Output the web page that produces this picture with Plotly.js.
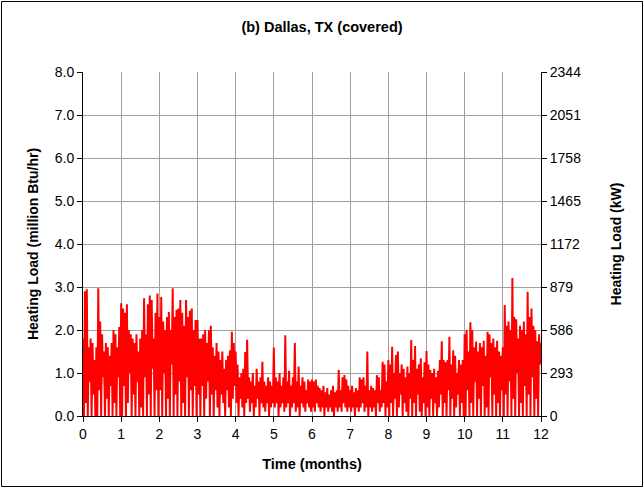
<!DOCTYPE html>
<html>
<head>
<meta charset="utf-8">
<script src="https://cdn.plot.ly/plotly-3.0.1.min.js"></script>
<style>
  html, body { margin: 0; padding: 0; background: #ffffff; }
  #chart { width: 644px; height: 488px; }
</style>
</head>
<body>
<div id="chart"></div>
<script>
// Heating load (million Btu/hr).
// Each month: 20 local peaks and 20 local troughs, every 0.05 month.
const peakLoad = [
  // month 0
  1.8, 2.9, 2.95, 1.6, 1.8, 1.7, 1.3, 1.6, 2.97, 2.2, 1.9, 1.5, 1.7, 1.6, 1.4, 1.7, 2.0, 1.9, 1.6, 2.07,
  // month 1
  2.62, 2.5, 2.4, 2.6, 2.0, 1.9, 1.8, 1.7, 1.9, 1.5, 1.8, 2.0, 2.74, 1.9, 2.6, 2.8, 2.7, 1.8, 2.4, 2.85,
  // month 2
  2.3, 2.77, 2.2, 2.0, 2.3, 2.42, 2.0, 2.97, 2.3, 2.47, 2.5, 2.7, 2.4, 2.1, 2.7, 2.3, 2.45, 2.5, 2.0, 2.23,
  // month 3
  2.23, 1.8, 1.8, 1.9, 2.0, 1.7, 2.0, 2.1, 1.6, 1.4, 1.7, 1.5, 1.3, 1.5, 1.1, 1.3, 1.4, 1.53, 1.96, 1.7,
  // month 4
  1.5, 1.2, 0.9, 1.0, 1.1, 1.49, 1.77, 0.9, 0.8, 1.0, 0.7, 1.1, 0.8, 0.9, 1.26, 0.8, 0.7, 0.9, 0.8, 0.7,
  // month 5
  1.59, 0.9, 0.8, 1.0, 0.7, 0.9, 1.88, 0.8, 1.05, 0.7, 0.9, 1.7, 0.8, 1.15, 0.7, 0.9, 0.8, 0.6, 0.85, 0.8,
  // month 6
  0.85, 0.8, 0.85, 0.7, 0.65, 0.6, 0.7, 0.55, 0.65, 0.5, 0.6, 0.7, 0.55, 0.6, 1.07, 0.6, 0.9, 0.95, 0.85, 0.7,
  // month 7
  0.6, 0.7, 0.55, 0.65, 0.6, 0.9, 0.85, 0.9, 0.7, 1.5, 0.6, 0.7, 0.65, 0.6, 0.95, 0.9, 0.6, 1.26, 1.2, 0.8,
  // month 8
  1.3, 1.2, 1.61, 1.0, 1.42, 1.5, 1.0, 1.2, 1.1, 0.9, 1.15, 1.0, 1.77, 1.3, 1.63, 1.1, 1.2, 1.34, 0.9, 1.25,
  // month 9
  1.51, 1.2, 1.07, 1.0, 1.1, 0.9, 1.05, 1.3, 1.74, 1.3, 1.25, 1.3, 1.84, 1.2, 1.53, 1.4, 1.0, 1.3, 1.2, 1.3,
  // month 10
  1.9, 2.0, 1.5, 2.18, 2.0, 1.6, 1.73, 1.5, 1.7, 1.6, 1.75, 1.4, 1.96, 1.9, 1.7, 1.8, 1.6, 1.75, 1.5, 1.4,
  // month 11
  1.6, 2.58, 2.1, 2.2, 2.0, 3.21, 2.3, 2.25, 1.8, 2.1, 2.0, 2.2, 1.9, 2.89, 2.3, 2.5, 2.1, 2.0, 1.74, 1.9
];
const troughLoad = [
  0.0, 0.3, 0.0, 0.8, 0.0, 0.5, 0.0, 0.0, 0.6, 0.0, 0.9, 0.0, 0.4, 0.0, 0.7, 0.0, 0.3, 0.0, 0.9, 0.0,
  0.0, 0.7, 0.0, 0.3, 1.0, 0.0, 0.5, 0.0, 0.8, 0.0, 0.2, 0.0, 0.9, 0.0, 0.5, 0.0, 1.1, 0.0, 0.6, 0.0,
  0.6, 0.0, 1.0, 0.0, 0.4, 0.0, 1.2, 0.0, 0.5, 0.0, 0.8, 0.0, 0.3, 0.0, 0.9, 0.0, 0.6, 0.0, 0.7, 0.0,
  0.5, 0.0, 0.7, 0.0, 0.4, 0.8, 0.0, 0.5, 0.0, 0.6, 0.2, 0.0, 0.5, 0.3, 0.0, 0.6, 0.2, 0.0, 0.4, 0.7,
  0.3, 0.0, 0.4, 0.2, 0.0, 0.3, 0.4, 0.1, 0.3, 0.0, 0.2, 0.4, 0.0, 0.3, 0.2, 0.1, 0.3, 0.0, 0.2, 0.3,
  0.2, 0.3, 0.0, 0.2, 0.3, 0.1, 0.2, 0.3, 0.0, 0.2, 0.3, 0.1, 0.2, 0.0, 0.3, 0.2, 0.1, 0.3, 0.2, 0.1,
  0.2, 0.1, 0.3, 0.2, 0.1, 0.2, 0.0, 0.2, 0.1, 0.2, 0.1, 0.0, 0.2, 0.1, 0.2, 0.1, 0.3, 0.2, 0.1, 0.2,
  0.1, 0.2, 0.0, 0.2, 0.1, 0.2, 0.3, 0.1, 0.2, 0.0, 0.2, 0.1, 0.2, 0.0, 0.3, 0.1, 0.2, 0.3, 0.0, 0.2,
  0.0, 0.3, 0.0, 0.4, 0.0, 0.2, 0.5, 0.0, 0.3, 0.1, 0.0, 0.4, 0.0, 0.3, 0.0, 0.5, 0.1, 0.0, 0.3, 0.0,
  0.2, 0.0, 0.4, 0.0, 0.3, 0.0, 0.2, 0.5, 0.0, 0.3, 0.0, 0.6, 0.0, 0.4, 0.0, 0.2, 0.5, 0.0, 0.3, 0.0,
  0.0, 0.6, 0.0, 0.3, 0.0, 0.8, 0.0, 0.4, 0.0, 0.7, 0.0, 0.2, 0.0, 0.9, 0.0, 0.5, 0.0, 0.3, 0.0, 0.6,
  0.0, 0.5, 0.0, 0.8, 0.0, 0.4, 0.0, 1.0, 0.0, 0.3, 0.0, 0.7, 0.0, 0.5, 0.0, 0.9, 0.0, 0.4, 0.0, 1.2
];
const endLoad = 1.7;           // value at 12 months
const sampleStep = 0.05;       // months between successive peaks
const kwPerMBtuh = 293.07;     // unit conversion for the right axis

const monthTicks = [0, 1, 2, 3, 4, 5, 6, 7, 8, 9, 10, 11, 12];
const btuTicks = [0, 1, 2, 3, 4, 5, 6, 7, 8];
const kwTicks = [0, 293, 586, 879, 1172, 1465, 1758, 2051, 2344];

const xs = [], ys = [];
for (let i = 0; i < peakLoad.length; i++) {
  xs.push(i * sampleStep); ys.push(peakLoad[i]);
  xs.push(i * sampleStep + sampleStep / 2); ys.push(troughLoad[i]);
}
xs.push(peakLoad.length * sampleStep); ys.push(endLoad);

const FONT = 'Arial, "Liberation Sans", sans-serif';
const gridCol = '#a0a0a0';

const traces = [
  { // same series in kW, invisible, so that the right axis is drawn
    type: 'scatter', mode: 'lines', x: xs, y: ys.map(v => v * kwPerMBtuh),
    yaxis: 'y2', line: { color: 'rgba(0,0,0,0)', width: 0 },
    hoverinfo: 'skip', showlegend: false
  },
  {
    type: 'scatter', mode: 'lines', x: xs, y: ys,
    line: { color: '#ff0000', width: 2 },
    hoverinfo: 'skip', showlegend: false
  }
];

const layout = {
  width: 644, height: 488,
  margin: { l: 83, r: 103, t: 72, b: 72, pad: 0 },
  paper_bgcolor: '#ffffff', plot_bgcolor: '#ffffff',
  font: { family: FONT, size: 14, color: '#000000' },
  showlegend: false,
  title: {
    text: '<b>(b) Dallas, TX (covered)</b>',
    font: { family: FONT, size: 14.5, color: '#000' },
    xref: 'container', x: 0.5, xanchor: 'center',
    yref: 'container', y: 1 - 27 / 488, yanchor: 'middle'
  },
  xaxis: {
    range: [0, 12], tickvals: monthTicks, ticktext: monthTicks.map(String),
    showgrid: true, gridcolor: gridCol, gridwidth: 1,
    showline: true, linecolor: '#000', linewidth: 1,
    ticks: 'outside', ticklen: 5, tickcolor: '#000',
    zeroline: false, fixedrange: true,
    tickfont: { family: FONT, size: 14 },
    title: { text: '<b>Time (months)</b>', font: { family: FONT, size: 14.5 }, standoff: 18 }
  },
  yaxis: {
    range: [0, 8], tickvals: btuTicks, ticktext: btuTicks.map(v => v.toFixed(1)),
    showgrid: true, gridcolor: gridCol, gridwidth: 1,
    showline: true, linecolor: '#000', linewidth: 1,
    ticks: 'outside', ticklen: 5, tickcolor: '#000',
    zeroline: false, fixedrange: true,
    tickfont: { family: FONT, size: 14 },
    title: { text: '<b>Heating Load (million Btu/hr)</b>', font: { family: FONT, size: 14 }, standoff: 12 }
  },
  yaxis2: {
    overlaying: 'y', side: 'right', anchor: 'x',
    range: [0, 2344], tickvals: kwTicks, ticktext: kwTicks.map(String),
    showgrid: false, showline: true, linecolor: '#000', linewidth: 1,
    ticks: 'outside', ticklen: 5, tickcolor: '#000',
    zeroline: false, fixedrange: true,
    tickfont: { family: FONT, size: 14 },
    title: { text: '<b>Heating Load (kW)</b>', font: { family: FONT, size: 14 }, standoff: 31 }
  },
  shapes: [{
    type: 'rect', xref: 'paper', yref: 'paper',
    x0: (1.5 - 83) / 458, x1: (642.5 - 83) / 458,
    y0: (416 - 486.5) / 344, y1: (416 - 1.5) / 344,
    line: { color: '#000', width: 1 }, fillcolor: 'rgba(0,0,0,0)', layer: 'above'
  }]
};

Plotly.newPlot('chart', traces, layout, { staticPlot: true, displayModeBar: false });
</script>
</body>
</html>
